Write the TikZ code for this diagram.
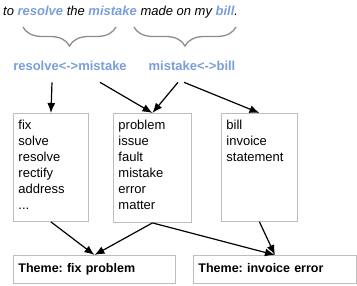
\documentclass[tikz,border=0pt]{standalone}
\usepackage{fontspec}
\setmainfont{Liberation Sans}
\usetikzlibrary{arrows.meta,positioning,decorations.pathreplacing}
\definecolor{wordblue}{HTML}{7A9EDA}
\definecolor{bracegray}{HTML}{8C8C8C}
\definecolor{boxgray}{HTML}{BDBDBD}
\definecolor{ink}{HTML}{000000}
\frenchspacing
\tikzset{
  base/.style={font=\fontsize{13}{16}\selectfont, text=ink},
  sentence/.style={base, font=\itshape\fontsize{13}{16}\selectfont},
  pair/.style={base, font=\bfseries\fontsize{13}{16}\selectfont, text=wordblue},
  listbox/.style={base, draw=boxgray, line width=0.9pt, anchor=north west, inner xsep=5pt, inner ysep=7pt},
  theme/.style={base, font=\bfseries\fontsize{12.5}{16}\selectfont, draw=boxgray, line width=0.9pt, anchor=north west, minimum height=28pt, inner xsep=5pt, text depth=2pt, align=left},
  bracket/.style={decorate, decoration={brace, amplitude=19pt}, draw=bracegray, line width=1.3pt},
  arrow/.style={-{Latex[length=10pt,width=8pt]}, line width=1.2pt, draw=ink},
}
\newcommand{\hl}[1]{\textcolor{wordblue}{\bfseries #1}}

\begin{document}
\begin{tikzpicture}[x=1pt,y=-1pt]
  \useasboundingbox (0,0) rectangle (357,285);
  \node[sentence,anchor=west,inner sep=0pt] (sent) at (3,12) {to \hl{resolve} the \hl{mistake} made on my \hl{bill}.};

  \coordinate (b1l) at (23,27);
  \coordinate (b1r) at (116,27);
  \coordinate (b2l) at (134,27);
  \coordinate (b2r) at (236,27);
  \draw[bracket] (b1r) -- (b1l);
  \draw[bracket] (b2r) -- (b2l);

  \node[pair] (rm) at (70,66) {resolve<->mistake};
  \node[pair] (mb) at (192,66) {mistake<->bill};

  \node[listbox] (fixbox) at (13,113) {\parbox[t][94pt][t]{65pt}{fix\\solve\\resolve\\rectify\\address\\...}};
  \node[listbox] (probbox) at (113,113) {\parbox[t][95pt][t]{68pt}{problem\\issue\\fault\\mistake\\error\\matter}};
  \node[listbox] (billbox) at (221,113) {\parbox[t][94pt][t]{66pt}{bill\\invoice\\statement}};

  \node[theme,text width=152pt] (fixtheme) at (13,255) {Theme: fix problem};
  \node[theme,text width=153pt] (errtheme) at (193,255) {Theme: invoice error};

  \draw[arrow] ([xshift=-18pt,yshift=-8pt]rm.south) -- (fixbox.north);
  \draw[arrow] ([xshift=30pt,yshift=-8pt]rm.south) -- (probbox.north);
  \draw[arrow] ([xshift=-14pt,yshift=-8pt]mb.south) -- (probbox.north);
  \draw[arrow] ([xshift=-8pt,yshift=-8pt]mb.south) -- (billbox.north);

  \draw[arrow] (fixbox.south) -- (fixtheme.north);
  \draw[arrow] (probbox.south) -- (fixtheme.north);
  \draw[arrow] (probbox.south) -- (errtheme.north);
  \draw[arrow] (billbox.south) -- (errtheme.north);
\end{tikzpicture}
\end{document}
